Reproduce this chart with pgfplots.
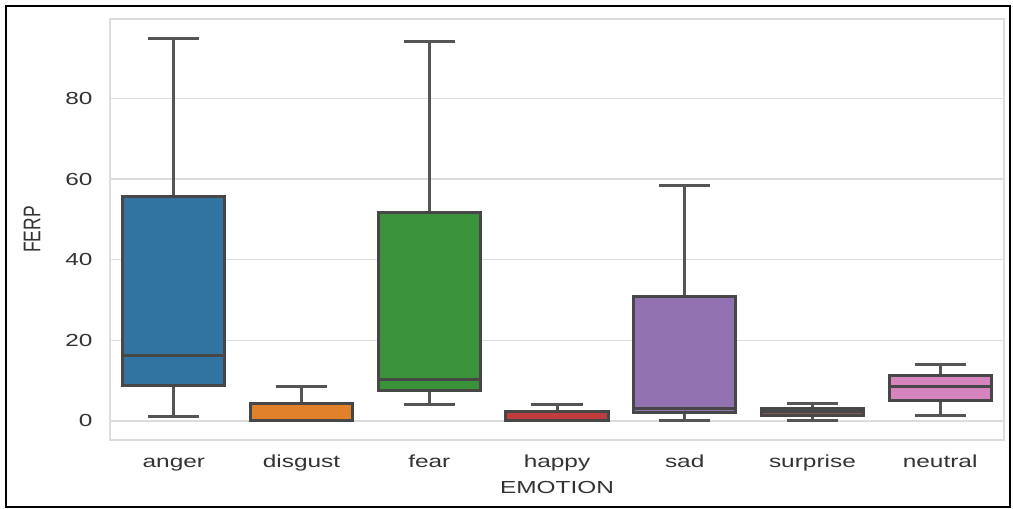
\documentclass[border=0pt]{standalone}
\usepackage{fontspec}
\setmainfont{Liberation Sans}[FakeStretch=1.4]
\newfontfamily\plainfont{Liberation Sans}
\usepackage{graphicx}
\usepackage{pgfplots}
\pgfplotsset{compat=1.18}
\usepgfplotslibrary{statistics}
\definecolor{cblue}{HTML}{3274A1}
\definecolor{corange}{HTML}{E1812C}
\definecolor{cgreen}{HTML}{3A923A}
\definecolor{cred}{HTML}{C03D3E}
\definecolor{cpurple}{HTML}{9372B2}
\definecolor{cbrown}{HTML}{845B53}
\definecolor{cpink}{HTML}{D684BD}
\definecolor{edge}{HTML}{474747}
\definecolor{whisk}{HTML}{555555}
\definecolor{gridc}{HTML}{DCDCDC}
\definecolor{txt}{HTML}{333333}
\begin{document}
\begin{tikzpicture}[x=1bp,y=1bp]
\useasboundingbox (-110,-69) rectangle (903,440);
\draw[line width=2bp, black] (-104,-67) rectangle (900,434);
\begin{axis}[
  at={(0,0)}, anchor=south west,
  scale only axis, width=894bp, height=421bp,
  xmin=-0.5, xmax=6.5, ymin=-4.75, ymax=99.75,
  xtick={0,1,2,3,4,5,6},
  xticklabels={anger,disgust,fear,happy,sad,surprise,neutral},
  ytick={0,20,40,60,80},
  ymajorgrids,
  grid style={gridc, line width=1.3bp},
  axis line style={gridc, line width=1.3bp},
  major tick length=0pt,
  /pgf/number format/assume math mode=true,
  tick label style={font=\fontsize{17.5}{21}\selectfont, text=txt},
  label style={font=\fontsize{17.5}{21}\selectfont, text=txt},
  xticklabel style={anchor=base, yshift=-28bp},
  yticklabel style={xshift=-14bp},
  xlabel={EMOTION},
  ylabel={\scalebox{1}[1.38]{\plainfont FERP}},
  xlabel style={yshift=-3bp},
  ylabel style={yshift=18bp},
  boxplot/draw direction=y,
  boxplot/box extend=0.8,
  boxplot/whisker extend=0.4,
  boxplot/every box/.style={draw=edge, line width=3bp},
  boxplot/every median/.style={draw=edge, line width=3bp},
  boxplot/every whisker/.style={draw=whisk, line width=3bp},
  clip=false,
]
\addplot[boxplot prepared={draw position=0, lower whisker=1.2, lower quartile=8.9, median=16.1, upper quartile=55.7, upper whisker=95.0}, fill=cblue, draw=edge, line width=3bp] coordinates {};
\addplot[boxplot prepared={draw position=1, lower whisker=0.0, lower quartile=0.2, median=0.2, upper quartile=4.2, upper whisker=8.5}, fill=corange, draw=edge, line width=3bp] coordinates {};
\addplot[boxplot prepared={draw position=2, lower whisker=4.1, lower quartile=7.6, median=10.3, upper quartile=51.8, upper whisker=94.2}, fill=cgreen, draw=edge, line width=3bp] coordinates {};
\addplot[boxplot prepared={draw position=3, lower whisker=0.0, lower quartile=0.2, median=0.2, upper quartile=2.2, upper whisker=4.1}, fill=cred, draw=edge, line width=3bp] coordinates {};
\addplot[boxplot prepared={draw position=4, lower whisker=0.2, lower quartile=2.0, median=3.1, upper quartile=30.8, upper whisker=58.3}, fill=cpurple, draw=edge, line width=3bp] coordinates {};
\addplot[boxplot prepared={draw position=5, lower whisker=0.0, lower quartile=1.4, median=2.2, upper quartile=3.1, upper whisker=4.3}, fill=cbrown, draw=edge, line width=3bp] coordinates {};
\addplot[boxplot prepared={draw position=6, lower whisker=1.3, lower quartile=5.0, median=8.5, upper quartile=11.2, upper whisker=14.1}, fill=cpink, draw=edge, line width=3bp] coordinates {};
\end{axis}
\end{tikzpicture}
\end{document}
